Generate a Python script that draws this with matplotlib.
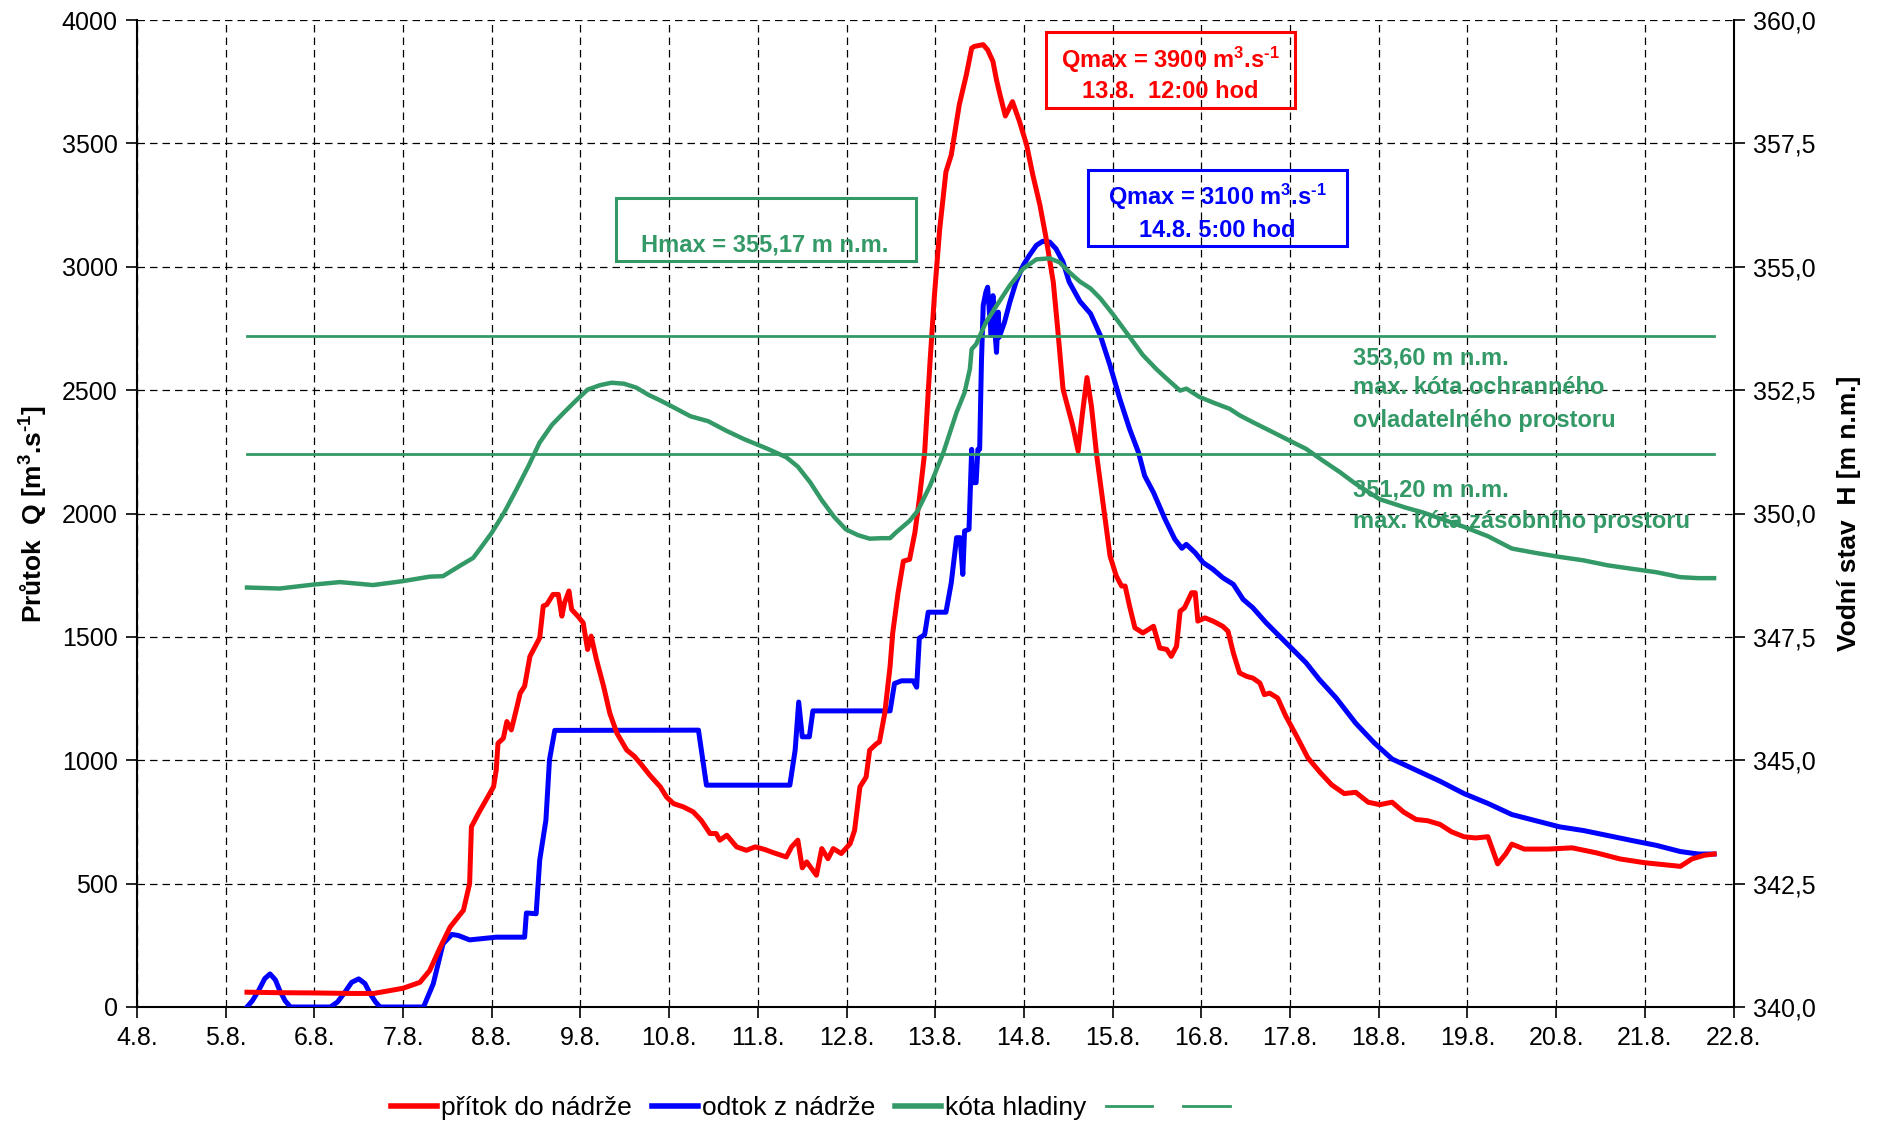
import matplotlib
matplotlib.use('Agg')
import matplotlib.pyplot as plt
from matplotlib.lines import Line2D
from matplotlib.patches import Rectangle
from matplotlib.ticker import FuncFormatter

plt.rcParams['font.family'] = ['Liberation Sans', 'DejaVu Sans']
plt.rcParams['mathtext.fontset'] = 'custom'
plt.rcParams['mathtext.rm'] = 'Liberation Sans:bold'
plt.rcParams['mathtext.bf'] = 'Liberation Sans:bold'
plt.rcParams['mathtext.default'] = 'bf'

# ---------------- data ----------------
day_ticks = [4, 5, 6, 7, 8, 9, 10, 11, 12, 13, 14, 15, 16, 17, 18, 19, 20, 21, 22]
day_labels = ['4.8.', '5.8.', '6.8.', '7.8.', '8.8.', '9.8.', '10.8.', '11.8.', '12.8.',
              '13.8.', '14.8.', '15.8.', '16.8.', '17.8.', '18.8.', '19.8.', '20.8.',
              '21.8.', '22.8.']

# inflow (přítok) [m3/s]
t_in = [5.24, 5.60, 6.00, 6.40, 6.67, 7.00, 7.19, 7.30, 7.42, 7.53, 7.68, 7.75, 7.76, 7.77,
        7.85, 8.02, 8.05, 8.07, 8.13, 8.17, 8.22, 8.28, 8.32, 8.37, 8.43, 8.49, 8.54, 8.58,
        8.62, 8.69, 8.75, 8.79, 8.82, 8.87, 8.90, 8.97, 9.03, 9.08, 9.12, 9.18, 9.26, 9.33,
        9.41, 9.52, 9.61, 9.69, 9.78, 9.90, 9.97, 10.05, 10.16, 10.27, 10.36, 10.46, 10.53,
        10.57, 10.65, 10.76, 10.87, 10.97, 11.08, 11.17, 11.32, 11.38, 11.45, 11.50, 11.55,
        11.66, 11.72, 11.79, 11.85, 11.94, 12.04, 12.09, 12.15, 12.22, 12.26, 12.34, 12.37,
        12.43, 12.49, 12.52, 12.58, 12.64, 12.71, 12.77, 12.82, 12.88, 12.94, 12.99, 13.05,
        13.12, 13.18, 13.27, 13.35, 13.41, 13.44, 13.54, 13.59, 13.65, 13.69, 13.73, 13.79,
        13.87, 13.95, 14.03, 14.10, 14.18, 14.25, 14.33, 14.38, 14.44, 14.49, 14.55, 14.61,
        14.66, 14.71, 14.76, 14.82, 14.90, 14.97, 15.04, 15.10, 15.14, 15.19, 15.25, 15.34,
        15.46, 15.53, 15.61, 15.66, 15.72, 15.76, 15.81, 15.89, 15.93, 15.96, 16.04, 16.13,
        16.24, 16.30, 16.36, 16.43, 16.51, 16.58, 16.66, 16.71, 16.77, 16.86, 16.95, 17.07,
        17.20, 17.34, 17.47, 17.61, 17.74, 17.88, 18.01, 18.15, 18.28, 18.42, 18.55, 18.69,
        18.82, 18.96, 19.09, 19.23, 19.34, 19.43, 19.50, 19.64, 19.91, 20.18, 20.45, 20.72,
        20.99, 21.26, 21.40, 21.53, 21.67, 21.78]
q_in = [60, 58, 57, 55, 55, 76, 100, 148, 243, 324, 392, 500, 622, 730,
        785, 893, 961, 1069, 1089, 1157, 1123, 1211, 1272, 1300, 1421, 1462, 1496, 1625,
        1631, 1672, 1672, 1584, 1638, 1686, 1611, 1584, 1557, 1449, 1503, 1408, 1300, 1191,
        1110, 1042, 1015, 981, 940, 892, 851, 824, 811, 791, 757, 703, 703,
        676, 696, 649, 635, 649, 638, 626, 608, 649, 676, 564, 588,
        534, 642, 601, 642, 622, 662, 716, 892, 932, 1041, 1068, 1074,
        1190, 1380, 1516, 1678, 1807, 1814, 1923, 2058, 2247, 2612, 2883, 3154,
        3385, 3453, 3656, 3778, 3886, 3893, 3900, 3879, 3832, 3757, 3696, 3611,
        3669, 3588, 3493, 3371, 3249, 3114, 2938, 2748, 2504, 2436, 2355, 2253,
        2409, 2551, 2436, 2234, 2018, 1828, 1747, 1706, 1706, 1625, 1537, 1516,
        1543, 1455, 1449, 1421, 1462, 1604, 1618, 1679, 1679, 1564, 1577, 1564,
        1543, 1523, 1435, 1354, 1340, 1333, 1313, 1266, 1272, 1252, 1180, 1100,
        1010, 950, 900, 865, 870, 830, 820, 830, 790, 760, 755, 740,
        710, 690, 685, 690, 580, 620, 660, 640, 640, 645, 625, 600,
        585, 575, 570, 600, 615, 620]

# outflow (odtok) [m3/s]
t_out = [5.24, 5.30, 5.37, 5.44, 5.50, 5.56, 5.61, 5.67, 5.73, 6.18, 6.26, 6.33, 6.42, 6.50,
         6.57, 6.63, 6.69, 6.74, 7.23, 7.34, 7.45, 7.55, 7.62, 7.75, 8.05, 8.37, 8.39, 8.50,
         8.54, 8.61, 8.65, 8.71, 10.33, 10.42, 11.36, 11.42, 11.46, 11.50, 11.58, 11.62,
         12.49, 12.54, 12.62, 12.75, 12.79, 12.82, 12.88, 12.92, 13.12, 13.18, 13.24, 13.28,
         13.31, 13.33, 13.38, 13.41, 13.42, 13.46, 13.48, 13.50, 13.52, 13.54, 13.57, 13.59,
         13.61, 13.63, 13.65, 13.67, 13.69, 13.71, 13.72, 13.78, 13.84, 13.91, 13.99, 14.06,
         14.14, 14.21, 14.29, 14.36, 14.44, 14.51, 14.63, 14.75, 14.86, 14.97, 15.08, 15.19,
         15.29, 15.36, 15.46, 15.59, 15.70, 15.78, 15.83, 15.93, 16.02, 16.13, 16.24, 16.36,
         16.47, 16.58, 16.73, 16.88, 17.03, 17.18, 17.33, 17.52, 17.74, 17.95, 18.15, 18.42,
         18.69, 18.96, 19.23, 19.50, 19.77, 20.04, 20.31, 20.58, 20.85, 21.13, 21.40, 21.60,
         21.78]
q_out = [0, 25, 66, 115, 134, 110, 66, 25, 0, 0, 20, 53, 100, 114,
         95, 53, 20, 0, 0, 94, 256, 294, 290, 272, 283, 283, 381, 378,
         595, 757, 1001, 1121, 1122, 899, 899, 1041, 1236, 1095, 1095, 1200,
         1200, 1311, 1322, 1322, 1296, 1495, 1509, 1600, 1600, 1719, 1902, 1902,
         1753, 1929, 1936, 2260, 2125, 2125, 2260, 2260, 2612, 2843, 2897, 2917,
         2816, 2721, 2883, 2748, 2653, 2816, 2714, 2775, 2856, 2938, 3005, 3046,
         3087, 3103, 3100, 3073, 3019, 2938, 2860, 2810, 2722, 2600, 2465, 2343,
         2248, 2153, 2085, 1977, 1896, 1859, 1875, 1841, 1801, 1774, 1740, 1713,
         1652, 1618, 1557, 1503, 1449, 1395, 1327, 1252, 1150, 1070, 1005, 960,
         915, 865, 825, 780, 755, 730, 715, 695, 675, 655, 630, 620,
         620]

# water level (kóta hladiny) [m n.m.]
t_lvl = [5.24, 5.61, 5.99, 6.29, 6.66, 7.00, 7.30, 7.45, 7.64, 7.79, 7.87, 8.00, 8.14, 8.27,
         8.41, 8.54, 8.68, 8.81, 8.95, 9.08, 9.22, 9.35, 9.49, 9.63, 9.76, 9.90, 10.03, 10.24,
         10.44, 10.64, 10.84, 11.11, 11.32, 11.45, 11.59, 11.72, 11.86, 11.99, 12.13, 12.26,
         12.40, 12.49, 12.56, 12.71, 12.80, 12.94, 13.09, 13.24, 13.33, 13.39, 13.41, 13.46,
         13.57, 13.69, 13.84, 13.99, 14.14, 14.29, 14.40, 14.51, 14.63, 14.75, 14.86, 15.01,
         15.19, 15.34, 15.49, 15.61, 15.76, 15.83, 15.98, 16.13, 16.32, 16.43, 16.58, 16.77,
         16.99, 17.18, 17.37, 17.56, 17.74, 18.01, 18.30, 18.50, 18.69, 18.96, 19.23, 19.50,
         19.77, 20.04, 20.31, 20.58, 20.85, 21.13, 21.40, 21.60, 21.78]
h_lvl = [348.50, 348.48, 348.56, 348.61, 348.55, 348.63, 348.72, 348.73, 348.94, 349.10,
         349.29, 349.61, 350.02, 350.46, 350.95, 351.44, 351.80, 352.04, 352.29, 352.51,
         352.60, 352.65, 352.63, 352.55, 352.41, 352.29, 352.17, 351.97, 351.87, 351.68,
         351.51, 351.31, 351.14, 350.95, 350.63, 350.27, 349.93, 349.68, 349.56, 349.49,
         349.50, 349.50, 349.62, 349.85, 350.05, 350.56, 351.23, 352.05, 352.45, 352.93,
         353.33, 353.43, 353.87, 354.21, 354.62, 354.96, 355.15, 355.17, 355.09, 354.89,
         354.70, 354.56, 354.36, 354.02, 353.58, 353.21, 352.93, 352.73, 352.49, 352.53,
         352.36, 352.25, 352.12, 351.99, 351.85, 351.68, 351.48, 351.31, 351.07, 350.84,
         350.60, 350.29, 350.12, 350.02, 349.90, 349.73, 349.54, 349.29, 349.20, 349.12,
         349.05, 348.95, 348.88, 348.81, 348.71, 348.69, 348.69]

# reference levels
t_ref = [5.24, 21.78]
h_ochr = [353.60, 353.60]
h_zas = [351.20, 351.20]

q_ticks = [0, 500, 1000, 1500, 2000, 2500, 3000, 3500, 4000]
h_ticks = [340.0, 342.5, 345.0, 347.5, 350.0, 352.5, 355.0, 357.5, 360.0]

RED = '#FF0000'
BLUE = '#0000FF'
GREEN = '#339966'

# ---------------- figure ----------------
W, H = 1881, 1126
fig = plt.figure(figsize=(W / 100, H / 100), dpi=100)
ax_l, ax_r, ax_t, ax_b = 137, 1733.6, 20, 1007
ax = fig.add_axes([ax_l / W, 1 - ax_b / H, (ax_r - ax_l) / W, (ax_b - ax_t) / H])
ax.set_xlim(4, 22)
ax.set_ylim(0, 4000)
ax.set_xticks(day_ticks)
ax.set_xticklabels(day_labels)
ax.set_yticks(q_ticks)
ax.tick_params(axis='both', direction='out', length=8, width=1.2, labelsize=18, pad=6)
ax.grid(True, color='black', linestyle=(0, (6, 4)), linewidth=0.9)
for s in ['left', 'bottom']:
    ax.spines[s].set_linewidth(1.5)
ax.spines['top'].set_visible(False)
ax.spines['right'].set_visible(False)

l_out, = ax.plot(t_out, q_out, color=BLUE, lw=3.6, solid_joinstyle='round', zorder=3)
l_in, = ax.plot(t_in, q_in, color=RED, lw=3.6, solid_joinstyle='round', zorder=4)

ax.set_ylabel(r'Průtok  Q [m$^3$.s$^{\text{-}1}$]', fontsize=19, fontweight='bold',
              labelpad=8)

ax2 = ax.twinx()
ax2.set_ylim(340, 360)
ax2.set_yticks(h_ticks)
ax2.yaxis.set_major_formatter(FuncFormatter(lambda v, p: f'{v:.1f}'.replace('.', ',')))
ax2.tick_params(axis='y', direction='out', length=8, width=1.2, labelsize=18, pad=6)
ax2.spines['right'].set_linewidth(1.5)
ax2.spines['top'].set_visible(False)
ax2.spines['left'].set_visible(False)
ax2.spines['bottom'].set_visible(False)
l_o, = ax2.plot(t_ref, h_ochr, color=GREEN, lw=2.0)
l_z, = ax2.plot(t_ref, h_zas, color=GREEN, lw=2.0)
l_lvl, = ax2.plot(t_lvl, h_lvl, color=GREEN, lw=3.2, solid_joinstyle='round')
ax2.set_ylabel('Vodní stav  H [m n.m.]', fontsize=19, fontweight='bold', rotation=90,
               labelpad=15)

# ---------------- annotation boxes ----------------
def box(x0, y0, x1, y1, color):
    ax2.add_patch(Rectangle((x0, y0), x1 - x0, y1 - y0, transform=ax2.transAxes,
                            fill=False, edgecolor=color, lw=2.2, zorder=6, clip_on=False))


def label(x, y, s, color, size=17, ha='center'):
    ax2.text(x, y, s, transform=ax2.transAxes, color=color, fontsize=size,
             fontweight='bold', ha=ha, va='baseline', zorder=7)


box(0.5693, 0.9109, 0.7253, 0.9878, RED)
label(0.647, 0.9514, r'Qmax = 3900 m$^{3}$.s$^{\text{-}1}$', RED)
label(0.647, 0.9210, '13.8.  12:00 hod', RED)

box(0.5956, 0.771, 0.7579, 0.848, BLUE)
label(0.6764, 0.8126, r'Qmax = 3100 m$^{3}$.s$^{\text{-}1}$', BLUE)
label(0.6764, 0.7801, '14.8. 5:00 hod', BLUE)

box(0.300, 0.7558, 0.4879, 0.8197, GREEN)
label(0.3933, 0.7653, 'Hmax = 355,17 m n.m.', GREEN)

for txt, yy in [('353,60 m n.m.', 0.6576), ('max. kóta ochranného', 0.6272),
                ('ovladatelného prostoru', 0.5947), ('351,20 m n.m.', 0.5238),
                ('max. kóta zásobního prostoru', 0.4914)]:
    ax2.text(0.7616, yy, txt, transform=ax2.transAxes, color=GREEN, fontsize=17,
             fontweight='bold', ha='left', va='center', zorder=7)

# ---------------- legend ----------------
handles = [Line2D([], [], color=RED, lw=4), Line2D([], [], color=BLUE, lw=4),
           Line2D([], [], color=GREEN, lw=4), Line2D([], [], color=GREEN, lw=2),
           Line2D([], [], color=GREEN, lw=2)]
labels = ['přítok do nádrže', 'odtok z nádrže', 'kóta hladiny', ' ', ' ']
fig.legend(handles, labels, loc='center', bbox_to_anchor=(816 / W, 1 - 1108 / H), ncol=5,
           frameon=False, handlelength=1.75, handletextpad=0.15, columnspacing=0.75,
           prop={'family': ['Liberation Sans Narrow', 'Liberation Sans'], 'size': 19})

fig.savefig('out.png', dpi=100)
